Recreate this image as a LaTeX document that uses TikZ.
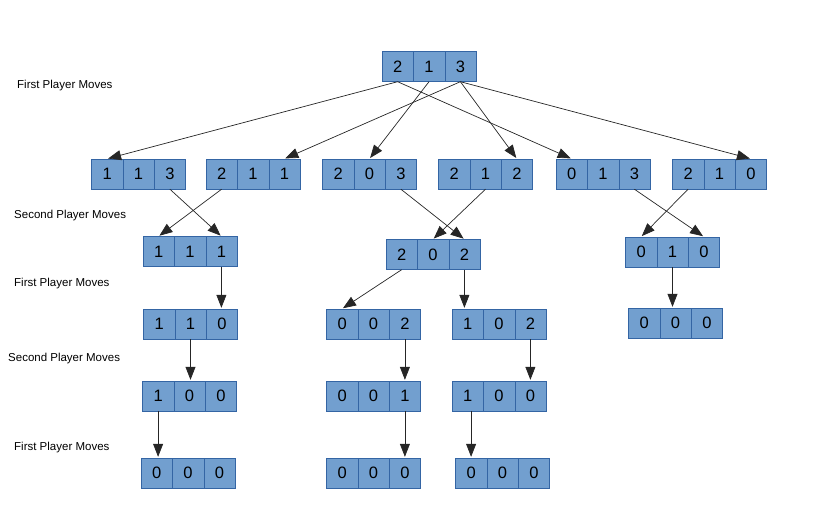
\documentclass[tikz,border=0pt]{standalone}
\usepackage{fontspec}
\setmainfont{Liberation Sans}
\usetikzlibrary{arrows.meta, positioning, shapes.multipart}
\definecolor{cellblue}{RGB}{114,159,207}
\definecolor{celledge}{RGB}{52,101,164}

\begin{document}
\begin{tikzpicture}[
  x=1pt, y=-1pt,
  heaps/.style={rectangle split, rectangle split horizontal, rectangle split parts=3,
                draw=celledge, fill=cellblue, inner xsep=0pt, inner ysep=0pt,
                text width=31pt, align=center, minimum height=30pt,
                font=\fontsize{16.5}{16.5}\selectfont},
  move/.style={-{Triangle[length=13pt,width=10pt]}, line width=0.7pt, color=black!85, shorten >=1pt},
  lbl/.style={anchor=west, inner xsep=0pt, font=\fontsize{11.5}{13}\selectfont}
]
\useasboundingbox (0,0) rectangle (820,523);

% level labels
\node[lbl] (first1)  at (17,86)  {First Player Moves};
\node[lbl] (second1) at (14,216) {Second Player Moves};
\node[lbl] (first2)  at (14,284) {First Player Moves};
\node[lbl] (second2) at (8,359)  {Second Player Moves};
\node[lbl] (first3)  at (14,448) {First Player Moves};

% start
\node[heaps] (s213) at (429,66.5) {2\nodepart{two}1\nodepart{three}3};

% first player
\node[heaps] (s113) at (138.5,174) {1\nodepart{two}1\nodepart{three}3};
\node[heaps] (s211) at (253,174)   {2\nodepart{two}1\nodepart{three}1};
\node[heaps] (s203) at (369.5,174) {2\nodepart{two}0\nodepart{three}3};
\node[heaps] (s212) at (485.5,174) {2\nodepart{two}1\nodepart{three}2};
\node[heaps] (s013) at (603,174)   {0\nodepart{two}1\nodepart{three}3};
\node[heaps] (s210) at (719.5,174) {2\nodepart{two}1\nodepart{three}0};

% second player
\node[heaps] (s111) at (190,251.5) {1\nodepart{two}1\nodepart{three}1};
\node[heaps] (s202) at (433,254.5) {2\nodepart{two}0\nodepart{three}2};
\node[heaps] (s010) at (672.5,252) {0\nodepart{two}1\nodepart{three}0};

% first player
\node[heaps] (s110)  at (190.5,324) {1\nodepart{two}1\nodepart{three}0};
\node[heaps] (s002)  at (373.5,324) {0\nodepart{two}0\nodepart{three}2};
\node[heaps] (s102)  at (499,324)   {1\nodepart{two}0\nodepart{three}2};
\node[heaps] (s000d) at (675.5,323) {0\nodepart{two}0\nodepart{three}0};

% second player
\node[heaps] (s100a) at (189.5,396) {1\nodepart{two}0\nodepart{three}0};
\node[heaps] (s001)  at (373.5,396) {0\nodepart{two}0\nodepart{three}1};
\node[heaps] (s100b) at (499,396)   {1\nodepart{two}0\nodepart{three}0};

% first player
\node[heaps] (s000a) at (188,473)   {0\nodepart{two}0\nodepart{three}0};
\node[heaps] (s000b) at (373.5,473) {0\nodepart{two}0\nodepart{three}0};
\node[heaps] (s000c) at (502.5,473) {0\nodepart{two}0\nodepart{three}0};

\draw[move] (s213.one south)   -- (s113.one north);
\draw[move] (s213.one south)   -- (s013.one north);
\draw[move] (s213.two south)   -- (s203.two north);
\draw[move] (s213.three south) -- (s211.three north);
\draw[move] (s213.three south) -- (s212.three north);
\draw[move] (s213.three south) -- (s210.three north);

\draw[move] (s113.three south) -- (s111.three north);
\draw[move] (s211.one south)   -- (s111.one north);
\draw[move] (s203.three south) -- (s202.three north);
\draw[move] (s212.two south)   -- (s202.two north);
\draw[move] (s013.three south) -- (s010.three north);
\draw[move] (s210.one south)   -- (s010.one north);

\draw[move] (s111.three south) -- (s111.three south |- s110.north);
\draw[move] (s202.one south)   -- (s002.one north);
\draw[move] (s202.three south) -- (s202.three south |- s102.north);
\draw[move] (s010.two south)   -- (s010.two south |- s000d.north);

\draw[move] (s110.two south)   -- (s110.two south |- s100a.north);
\draw[move] (s002.three south) -- (s001.three north);
\draw[move] (s102.three south) -- (s100b.three north);

\draw[move] (s100a.one south)  -- (s100a.one south |- s000a.north);
\draw[move] (s001.three south) -- (s000b.three north);
\draw[move] (s100b.south -| s000c.one north) -- (s000c.one north);
\end{tikzpicture}
\end{document}
